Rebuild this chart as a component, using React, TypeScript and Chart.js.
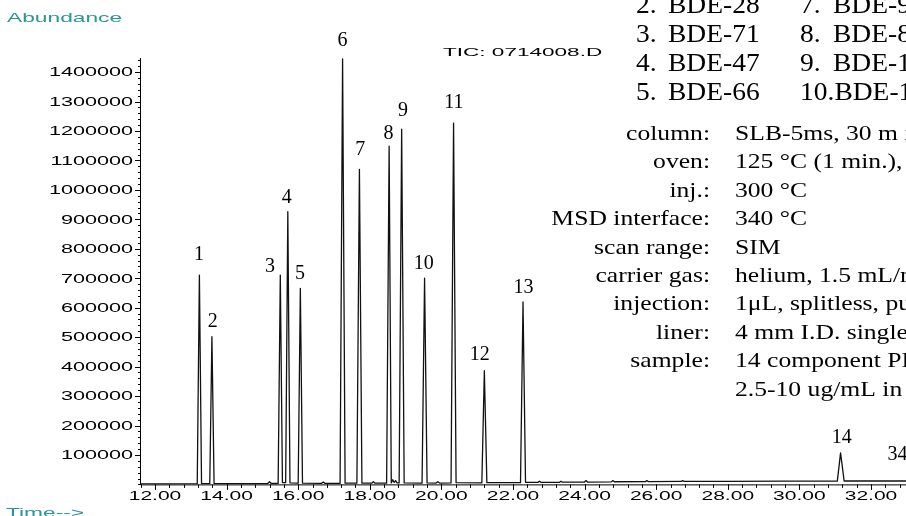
import { useEffect, useRef } from 'react';
import { Chart, registerables } from 'chart.js';

Chart.register(...registerables);

// ---- data ----
const yTickValues = [100000, 200000, 300000, 400000, 500000, 600000, 700000, 800000, 900000, 1000000, 1100000, 1200000, 1300000, 1400000];
const xTickValues = [12, 14, 16, 18, 20, 22, 24, 26, 28, 30, 32];

const peakNumbers = ['1', '2', '3', '4', '5', '6', '7', '8', '9', '10', '11', '12', '13', '14', '34'];
const labelTimes = [13.23, 13.61, 15.21, 15.68, 16.05, 17.24, 17.73, 18.52, 18.93, 19.51, 20.35, 21.07, 22.29, 31.18, 32.74];
const labelValues = [762000, 535000, 721000, 956000, 698000, 1489000, 1119000, 1173000, 1251000, 731000, 1279000, 423000, 649000, 140000, 83000];

const traceTimes = [
  11.58, 12.5, 13.18, 13.24, 13.3, 13.53, 13.59, 13.65, 14.5, 15.15, 15.2, 15.25,
  15.44, 15.5, 15.56, 15.65, 15.71, 15.77, 16.0, 16.06, 16.12, 16.65, 16.7, 16.75,
  17.17, 17.24, 17.31, 17.64, 17.71, 17.78, 18.05, 18.1, 18.15, 18.47, 18.54, 18.6,
  18.64, 18.68, 18.72, 18.76, 18.82, 18.89, 18.96, 19.46, 19.53, 19.6, 19.85, 19.9,
  19.95, 20.27, 20.34, 20.41, 21.13, 21.2, 21.27, 22.21, 22.28, 22.35, 22.7, 22.74,
  22.78, 23.3, 23.34, 23.38, 24.0, 24.04, 24.08, 24.75, 24.79, 24.83, 25.7, 25.74,
  25.78, 26.7, 26.74, 26.78, 28.0, 29.6, 31.06, 31.15, 31.25, 32.98,
];
const traceValues = [
  2000, 2000, 2500, 711000, 3000, 2500, 502000, 3000, 2500, 3000, 9000, 3000,
  3000, 711000, 6000, 6000, 926000, 5000, 4000, 666000, 4000, 3500, 8000, 3500,
  3500, 1445000, 4000, 4000, 1070000, 4000, 4000, 9000, 4000, 4000, 1149000, 5000,
  16000, 7000, 13000, 5000, 5000, 1206000, 5000, 4000, 700000, 5000, 4500, 9000,
  4500, 5000, 1227000, 6000, 5500, 386000, 6000, 6000, 620000, 7000, 7000, 11000,
  7000, 7000, 11000, 7500, 8000, 13000, 8000, 8500, 13000, 9000, 9500, 13000,
  9500, 10000, 13000, 10000, 10500, 11000, 11000, 107000, 11500, 11500,
];

const listNumbers1 = ['1.', '2.', '3.', '4.', '5.'];
const listNames1 = ['BDE-17', 'BDE-28', 'BDE-71', 'BDE-47', 'BDE-66'];
const listNumbers2 = ['6.', '7.', '8.', '9.', '10.'];
const listNames2 = ['BDE-100', 'BDE-99', 'BDE-85', 'BDE-154', 'BDE-153'];

const paramLabels = ['column:', 'oven:', 'inj.:', 'MSD interface:', 'scan range:', 'carrier gas:', 'injection:', 'liner:', 'sample:', ''];
const paramValues = [
  'SLB-5ms, 30 m x 0.25 mm I.D., 0.25 μm',
  '125 °C (1 min.), 10 °C/min. to 340 °C (5 min.)',
  '300 °C',
  '340 °C',
  'SIM',
  'helium, 1.5 mL/min., constant flow',
  '1μL, splitless, pulsed',
  '4 mm I.D. single taper',
  '14 component PBDE mix,',
  '2.5-10 ug/mL in isooctane',
];

const X_MIN = 11.581;
const X_MAX = 32.978;
const Y_MAX = 1448000;

const TEAL = '#2a9696';
const SANS = '"Liberation Sans", Arial, sans-serif';
const SERIF = '"Liberation Serif", "Times New Roman", serif';

function stretchText(
  ctx: CanvasRenderingContext2D,
  text: string,
  x: number,
  y: number,
  font: string,
  sx: number,
  align: CanvasTextAlign,
  color: string,
  baseline: CanvasTextBaseline = 'alphabetic'
) {
  ctx.save();
  ctx.font = font;
  ctx.fillStyle = color;
  ctx.textAlign = align;
  ctx.textBaseline = baseline;
  ctx.translate(x, y);
  ctx.scale(sx, 1);
  ctx.fillText(text, 0, 0);
  ctx.restore();
}

const decorPlugin = {
  id: 'decor',
  afterDraw(chart: any) {
    const ctx: CanvasRenderingContext2D = chart.ctx;
    const xs = chart.scales.x;
    const ys = chart.scales.y;
    const { left, right, top, bottom } = chart.chartArea;

    ctx.save();
    ctx.strokeStyle = '#000';
    ctx.lineWidth = 1;
    // axis lines
    ctx.beginPath();
    ctx.moveTo(left + 0.5, top);
    ctx.lineTo(left + 0.5, bottom + 0.5);
    ctx.lineTo(right, bottom + 0.5);
    ctx.stroke();

    // y minor ticks
    ctx.beginPath();
    for (let v = 0; v <= Y_MAX; v += 20000) {
      const py = Math.round(ys.getPixelForValue(v)) + 0.5;
      ctx.moveTo(left - 2, py);
      ctx.lineTo(left, py);
    }
    ctx.stroke();
    // y major ticks + labels (ticks set by the scale's afterBuildTicks)
    const yTicks: number[] = ys.ticks.map((t: any) => t.value);
    ctx.beginPath();
    yTicks.forEach((v) => {
      const py = Math.round(ys.getPixelForValue(v)) + 0.5;
      ctx.moveTo(left - 5, py);
      ctx.lineTo(left, py);
    });
    ctx.stroke();
    yTicks.forEach((v) => {
      stretchText(ctx, String(v), 133, ys.getPixelForValue(v) + 1, `12px ${SANS}`, 1.8, 'right', '#000', 'middle');
    });

    // x minor ticks
    ctx.beginPath();
    for (let k = 0; k <= 60; k++) {
      const v = 11.6 + k * 0.4;
      if (v > X_MAX) break;
      const px = Math.round(xs.getPixelForValue(v)) + 0.5;
      ctx.moveTo(px, bottom);
      ctx.lineTo(px, bottom + 3.5);
    }
    ctx.stroke();
    const xTicks: number[] = xs.ticks.map((t: any) => t.value);
    ctx.beginPath();
    xTicks.forEach((v) => {
      const px = Math.round(xs.getPixelForValue(v)) + 0.5;
      ctx.moveTo(px, bottom);
      ctx.lineTo(px, bottom + 5.5);
    });
    ctx.stroke();
    xTicks.forEach((v) => {
      stretchText(ctx, v.toFixed(2), xs.getPixelForValue(v), 500, `12px ${SANS}`, 1.75, 'center', '#000');
    });
    ctx.restore();

    // axis titles
    stretchText(ctx, 'Abundance', 7, 22, `13px ${SANS}`, 1.75, 'left', TEAL);
    stretchText(ctx, 'Time-->', 6, 517, `13px ${SANS}`, 1.75, 'left', TEAL);
    stretchText(ctx, 'TIC: 0714008.D', 443, 56, `11px ${SANS}`, 2.05, 'left', '#000');

    // peak labels
    peakNumbers.forEach((n, i) => {
      stretchText(ctx, n, xs.getPixelForValue(labelTimes[i]), ys.getPixelForValue(labelValues[i]), `20px ${SERIF}`, 1, 'center', '#000');
    });

    // compound list
    const listFont = `25px ${SERIF}`;
    for (let i = 0; i < listNumbers1.length; i++) {
      const by = 13 + (i - 1) * 29;
      stretchText(ctx, listNumbers1[i], 636, by, listFont, 1.1, 'left', '#000');
      stretchText(ctx, listNames1[i], 668, by, listFont, 1.1, 'left', '#000');
      stretchText(ctx, listNumbers2[i], 800, by, listFont, 1.1, 'left', '#000');
      ctx.save();
      ctx.font = listFont;
      const w = ctx.measureText(listNumbers2[i]).width * 1.1;
      ctx.restore();
      stretchText(ctx, listNames2[i], Math.max(833, 800 + w), by, listFont, 1.1, 'left', '#000');
    }

    // conditions block
    const pFont = `21px ${SERIF}`;
    for (let i = 0; i < paramLabels.length; i++) {
      const by = 140 + i * 28.4;
      if (paramLabels[i]) stretchText(ctx, paramLabels[i], 710, by, pFont, 1.22, 'right', '#000');
      stretchText(ctx, paramValues[i], 735, by, pFont, 1.22, 'left', '#000');
    }
  },
};

export default function App() {
  const ref = useRef<HTMLCanvasElement>(null);

  useEffect(() => {
    const canvas = ref.current;
    if (!canvas) return;
    const points = traceTimes.map((t, i) => ({ x: t, y: traceValues[i] }));
    const chart = new Chart(canvas, {
      type: 'line',
      data: {
        datasets: [
          {
            label: 'TIC: 0714008.D',
            data: points,
            borderColor: '#111',
            borderWidth: 1.3,
            borderJoinStyle: 'round',
            pointRadius: 0,
            tension: 0,
            fill: false,
          },
        ],
      },
      options: {
        animation: false,
        responsive: false,
        maintainAspectRatio: false,
        layout: { padding: { left: 140, top: 58, right: 0, bottom: 31.6 } },
        plugins: { legend: { display: false }, tooltip: { enabled: false }, title: { display: false } },
        scales: {
          x: {
            type: 'linear',
            min: X_MIN,
            max: X_MAX,
            grid: { display: false, drawTicks: false },
            border: { display: false },
            ticks: { display: false },
            afterBuildTicks: (scale: any) => {
              scale.ticks = xTickValues.map((v) => ({ value: v }));
            },
          },
          y: {
            type: 'linear',
            min: 0,
            max: Y_MAX,
            grid: { display: false, drawTicks: false },
            border: { display: false },
            ticks: { display: false },
            afterBuildTicks: (scale: any) => {
              scale.ticks = yTickValues.map((v) => ({ value: v }));
            },
          },
        },
      },
      plugins: [decorPlugin],
    } as any);
    return () => chart.destroy();
  }, []);

  return (
    <div style={{ position: 'fixed', left: 0, top: 0, width: 906, height: 516, overflow: 'hidden', background: '#fff' }}>
      <canvas ref={ref} width={906} height={516} style={{ display: 'block', width: 906, height: 516 }} />
    </div>
  );
}
